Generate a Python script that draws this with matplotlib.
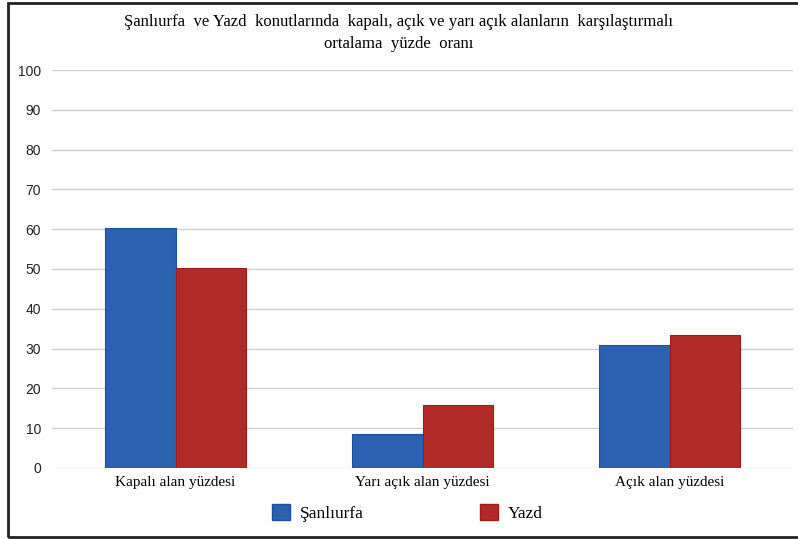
import numpy as np
import matplotlib
matplotlib.use("Agg")
from matplotlib import pyplot as plt
from matplotlib.patches import Rectangle, Patch

categories = ["Kapalı alan yüzdesi", "Yarı açık alan yüzdesi", "Açık alan yüzdesi"]
sanliurfa = [60.3, 8.5, 30.9]
yazd = [50.3, 15.7, 33.4]
series_names = ["Şanlıurfa", "Yazd"]

plt.rcParams["font.family"] = ["Liberation Serif", "DejaVu Serif"]

fig = plt.figure(figsize=(7.98, 5.39), dpi=100)
ax = fig.add_axes([0.0652, 0.132, 0.9286, 0.738])

x = np.arange(len(categories))
w = 0.284
blue = "#2a62b0"
red = "#b22a28"
ax.bar(x - w / 2, sanliurfa, w, color=blue, edgecolor="#1d4f9a", linewidth=0.8, zorder=3)
ax.bar(x + w / 2, yazd, w, color=red, edgecolor="#9a1e1c", linewidth=0.8, zorder=3)

ax.set_ylim(0, 100)
ax.set_xlim(-0.5, 2.5)
ax.set_yticks(range(0, 101, 10))
ax.set_xticks(x)
ax.set_xticklabels(categories, fontsize=11)
for t in ax.get_yticklabels():
    t.set_family(["Liberation Sans", "DejaVu Sans"])
    t.set_fontsize(10)
    t.set_color("#222222")
ax.tick_params(axis="both", length=0)
ax.tick_params(axis="y", pad=8)
ax.tick_params(axis="x", pad=6)
ax.grid(axis="y", color="#cfcfcf", linewidth=1, zorder=0)
for s in ax.spines.values():
    s.set_visible(False)

fig.text(0.5, 0.960, "Şanlıurfa  ve Yazd  konutlarında  kapalı, açık ve yarı açık alanların  karşılaştırmalı",
         ha="center", va="center", fontsize=12.1)
fig.text(0.5, 0.918, "ortalama  yüzde  oranı", ha="center", va="center", fontsize=12.1)

handles = [Patch(facecolor=blue, edgecolor="#1d4f9a"), Patch(facecolor=red, edgecolor="#9a1e1c")]
fig.legend(handles, series_names, loc="center", bbox_to_anchor=(0.511, 0.048), ncol=2,
           frameon=False, fontsize=12.5, columnspacing=6.7, handlelength=1.0, handleheight=1.0,
           handletextpad=0.6)

fig.patches.append(Rectangle((0.010, 0.004), 1.0, 0.990, transform=fig.transFigure,
                             fill=False, edgecolor="#222222", linewidth=2))

fig.savefig("out.png", dpi=100)
